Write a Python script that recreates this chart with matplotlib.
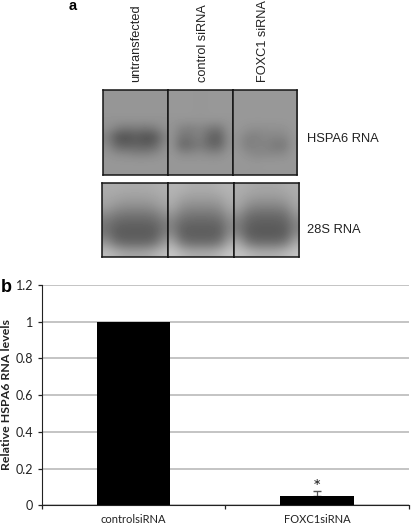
import numpy as np
import matplotlib
matplotlib.use('Agg')
import matplotlib.pyplot as plt

W, H = 411, 524

# bar chart values
categories = ['controlsiRNA', 'FOXC1siRNA']
levels = [1.0, 0.05]
err_up = [0.0, 0.03]
y_ticks = [0, 0.2, 0.4, 0.6, 0.8, 1, 1.2]
y_ticklabels = ['0', '0.2', '0.4', '0.6', '0.8', '1', '1.2']

# lane labels
lanes = ['untransfected', 'control siRNA', 'FOXC1 siRNA']

# gel grey levels, coarse grid for each lane
hspa_1 = [[150, 150, 150, 150, 150, 150, 150],
          [150, 150, 150, 150, 150, 150, 150],
          [150, 150, 150, 150, 150, 150, 150],
          [148, 148, 148, 148, 148, 148, 148],
          [144, 128, 120, 124, 120, 126, 144],
          [128, 86, 80, 92, 80, 86, 130],
          [138, 102, 96, 100, 94, 102, 140],
          [148, 138, 136, 130, 130, 136, 148],
          [152, 152, 152, 152, 152, 152, 152],
          [150, 150, 150, 150, 150, 150, 150]]
hspa_2 = [[152, 152, 152, 150, 152, 152, 152],
          [152, 152, 152, 150, 152, 152, 152],
          [152, 152, 152, 150, 152, 152, 152],
          [150, 150, 150, 150, 150, 150, 150],
          [148, 130, 128, 134, 122, 118, 148],
          [146, 116, 120, 130, 100, 92, 144],
          [146, 102, 110, 122, 104, 100, 144],
          [150, 138, 138, 142, 136, 136, 150],
          [152, 152, 152, 152, 152, 152, 152],
          [150, 150, 150, 150, 150, 150, 150]]
hspa_3 = [[152, 152, 152, 152, 152, 152, 152],
          [152, 152, 152, 152, 152, 152, 152],
          [152, 152, 152, 152, 152, 152, 152],
          [152, 152, 152, 152, 152, 152, 152],
          [152, 146, 142, 144, 144, 146, 152],
          [148, 130, 128, 136, 134, 134, 150],
          [148, 126, 132, 132, 120, 120, 150],
          [152, 142, 134, 136, 136, 138, 152],
          [152, 152, 150, 152, 152, 152, 152],
          [150, 150, 150, 150, 150, 150, 150]]
rna_1 = [[172, 172, 170, 170, 170, 172, 176],
         [168, 164, 160, 160, 160, 164, 170],
         [160, 148, 142, 142, 142, 148, 162],
         [135, 120, 115, 115, 115, 120, 140],
         [115, 100, 96, 96, 96, 100, 120],
         [118, 92, 90, 90, 90, 92, 125],
         [150, 115, 105, 105, 105, 115, 155],
         [190, 176, 165, 165, 165, 176, 190]]
rna_2 = [[180, 178, 172, 172, 172, 178, 180],
         [176, 164, 160, 160, 160, 164, 176],
         [168, 146, 140, 140, 140, 146, 168],
         [145, 122, 116, 116, 116, 122, 150],
         [128, 102, 98, 98, 98, 102, 135],
         [135, 96, 92, 92, 92, 96, 140],
         [170, 122, 110, 110, 110, 122, 170],
         [198, 182, 172, 172, 172, 182, 198]]
rna_3 = [[174, 170, 166, 166, 166, 170, 174],
         [170, 160, 155, 155, 155, 160, 170],
         [164, 140, 132, 132, 132, 140, 165],
         [140, 112, 105, 105, 105, 112, 148],
         [122, 98, 92, 92, 92, 98, 130],
         [130, 94, 88, 88, 88, 94, 138],
         [170, 125, 112, 112, 112, 125, 172],
         [196, 185, 175, 175, 175, 185, 196]]

plt.rcParams['font.family'] = ['Liberation Sans', 'DejaVu Sans']
fig = plt.figure(figsize=(W / 100, H / 100), dpi=100)


def px_axes(x0, y0, x1, y1):
    # rectangle given in pixels from the top left
    return fig.add_axes([x0 / W, 1 - y1 / H, (x1 - x0) / W, (y1 - y0) / H])


def gel(x0, y0, x1, y1, grid):
    ax = px_axes(x0, y0, x1, y1)
    ax.imshow(grid, cmap='gray', vmin=0, vmax=255, aspect='auto', interpolation='bicubic')
    ax.set_xticks([])
    ax.set_yticks([])
    for s in ax.spines.values():
        s.set_linewidth(1.1)
        s.set_color('#151515')


gel(103, 90, 168, 175, hspa_1)
gel(168, 90, 233, 175, hspa_2)
gel(233, 90, 297, 175, hspa_3)
gel(102, 183, 168, 257, rna_1)
gel(168, 183, 234, 257, rna_2)
gel(234, 183, 299, 257, rna_3)

for x, s in zip([136, 203, 263], lanes):
    fig.text(x / W, 1 - 82.5 / H, s, rotation=90, ha='center', va='bottom', fontsize=9.2, color='#222222')
fig.text(307 / W, 1 - 138.5 / H, 'HSPA6 RNA', ha='left', va='center', fontsize=9.3, color='#222222')
fig.text(307 / W, 1 - 230 / H, '28S RNA', ha='left', va='center', fontsize=9.3, color='#222222')
fig.text(69 / W, 1 - 6.5 / H, 'a', ha='left', va='center', fontsize=10.5, fontweight='bold')
fig.text(1 / W, 1 - 287 / H, 'b', ha='left', va='center', fontsize=13, fontweight='bold')

# bar chart
ax = px_axes(41.7, 285, 409, 505.3)
x = np.arange(len(categories))
ax.bar(x, levels, width=0.4, color='black', zorder=3)
ax.errorbar(x[1], levels[1], yerr=[[0], [err_up[1]]], color='#555555', lw=0.9, capsize=3, zorder=2)
ax.text(x[1], 0.052, '*', ha='center', va='bottom', fontsize=14, family=['Lato', 'DejaVu Sans'], color='#222222')
ax.set_xlim(-0.5, 1.5)
ax.set_ylim(0, 1.2)
ax.set_yticks(y_ticks)
ax.set_yticklabels(y_ticklabels, fontsize=9, family=['Lato', 'DejaVu Sans'], color='#222222')
ax.set_xticks([-0.5, 0.5, 1.5])
ax.set_xticklabels([])
for xc, c in zip(x, categories):
    ax.annotate(c, (xc, 0), xytext=(0, -14), xycoords='data', textcoords='offset pixels',
                ha='center', va='center', fontsize=8, family=['Lato', 'DejaVu Sans'], color='#222222',
                annotation_clip=False)
ax.tick_params(axis='both', length=3, width=0.9, color='#222222', pad=3, direction='out')
ax.grid(axis='y', color='#b4b4b4', lw=1.1, zorder=0)
ax.set_axisbelow(True)
ax.spines['top'].set_visible(False)
ax.spines['right'].set_visible(False)
ax.spines['left'].set_color('#222222')
ax.spines['bottom'].set_color('#222222')
fig.text(7 / W, 1 - 394.5 / H, 'Relative HSPA6 RNA levels', rotation=90, ha='center', va='center',
         fontsize=8.9, fontweight='bold', family=['Lato', 'DejaVu Sans'], color='#222222')

fig.savefig('out.png', dpi=100)
